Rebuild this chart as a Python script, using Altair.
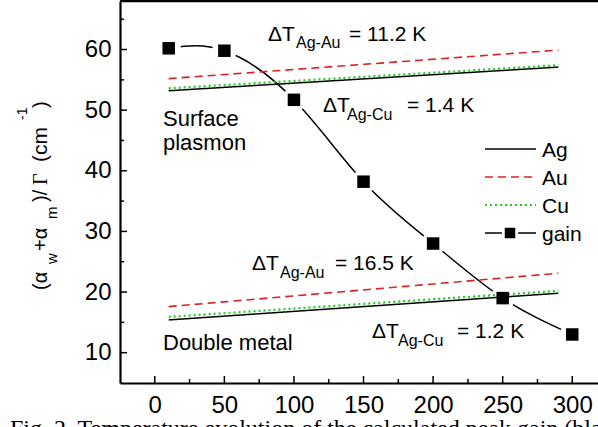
import altair as alt
import pandas as pd

# Peak gain (black squares) versus temperature
T_gain = [10, 50, 100, 150, 200, 250, 300]
gain = [60.2, 59.8, 51.7, 38.2, 28.0, 19.0, 13.0]

# Total losses (alpha_w + alpha_m)/Gamma for each metal, at 10 K and 290 K
T_metal = [10, 290]
sp_ag = [53.2, 57.1]
sp_au = [55.2, 59.9]
sp_cu = [53.6, 57.4]
dm_ag = [15.4, 19.8]
dm_au = [17.6, 23.1]
dm_cu = [15.9, 20.2]

x_major = [0, 50, 100, 150, 200, 250, 300]
x_minor = [25, 75, 125, 175, 225, 275]
y_major = [10, 20, 30, 40, 50, 60]
y_minor = [15, 25, 35, 45, 55, 65]

W, H = 478, 382
SANS = "Liberation Sans"
SERIF = "Liberation Serif"

gain_df = pd.DataFrame({"T": T_gain, "gain": gain})

rows = []
for struct, series in [
    ("Surface plasmon", {"Ag": sp_ag, "Au": sp_au, "Cu": sp_cu}),
    ("Double metal", {"Ag": dm_ag, "Au": dm_au, "Cu": dm_cu}),
]:
    for metal, vals in series.items():
        for t, v in zip(T_metal, vals):
            rows.append({"structure": struct, "metal": metal, "T": t, "value": v})
metals = pd.DataFrame(rows)

xs = alt.Scale(domain=[-25, 318.5], nice=False, zero=False)
ys = alt.Scale(domain=[5, 68], nice=False, zero=False)
x_axis = alt.Axis(values=x_major, title=None, grid=False, ticks=False, tickSize=0,
                  labelFont=SANS, labelFontSize=24, labelColor="black", labelPadding=10,
                  domainColor="black", domainWidth=2.2, labelFlush=False)
y_axis = alt.Axis(values=y_major, title=None, grid=False, ticks=False, tickSize=0,
                  labelFont=SANS, labelFontSize=24, labelColor="black", labelPadding=9,
                  domainColor="black", domainWidth=2.2)


def X(field):
    return alt.X(field, type="quantitative", scale=xs, axis=x_axis)


def Y(field):
    return alt.Y(field, type="quantitative", scale=ys, axis=y_axis)


one = pd.DataFrame({"k": [0]})


def txt(text, x, y, size=21, angle=0, font=SANS):
    return alt.Chart(one).mark_text(
        text=text, font=font, fontSize=size, angle=angle, align="left",
        baseline="alphabetic", color="black"
    ).encode(x=alt.value(x), y=alt.value(y))


def metal_line(metal, color, dash, width):
    return alt.Chart(metals).transform_filter(alt.datum.metal == metal).mark_line(
        color=color, strokeDash=dash, strokeWidth=width
    ).encode(x=X("T"), y=Y("value"), detail="structure:N")


def hrule(x1, x2, y, color="black", dash=None, width=1.5):
    kw = dict(color=color, strokeWidth=width)
    if dash:
        kw["strokeDash"] = dash
    return alt.Chart(one).mark_rule(**kw).encode(
        x=alt.value(x1), x2=alt.value(x2), y=alt.value(y))


RED = "#dd2222"
GREEN = "#22cc22"

gain_line = alt.Chart(gain_df).mark_line(
    color="black", strokeWidth=1.5, interpolate="natural"
).encode(x=X("T"), y=Y("gain"))
gain_gap = alt.Chart(gain_df).mark_point(
    shape="circle", filled=True, color="white", size=600, opacity=1
).encode(x=X("T"), y=Y("gain"))
gain_sq = alt.Chart(gain_df).mark_square(
    color="black", size=156, opacity=1
).encode(x=X("T"), y=Y("gain"))

ag = metal_line("Ag", "black", [1, 0], 1.5)
au = metal_line("Au", RED, [8, 5], 1.6)
cu = metal_line("Cu", GREEN, [2, 3], 2.2)

# inward tick marks
xt_major = alt.Chart(pd.DataFrame({"T": x_major})).mark_rule(color="black", strokeWidth=1.5).encode(
    x=X("T"), y=alt.value(H), y2=alt.value(H - 7))
xt_minor = alt.Chart(pd.DataFrame({"T": x_minor})).mark_rule(color="black", strokeWidth=1.5).encode(
    x=X("T"), y=alt.value(H), y2=alt.value(H - 4))
yt_major = alt.Chart(pd.DataFrame({"v": y_major})).mark_rule(color="black", strokeWidth=1.5).encode(
    y=Y("v"), x=alt.value(0), x2=alt.value(7))
yt_minor = alt.Chart(pd.DataFrame({"v": y_minor})).mark_rule(color="black", strokeWidth=1.5).encode(
    y=Y("v"), x=alt.value(0), x2=alt.value(4))
top_border = hrule(0, W, 0, width=2.5)

annotations = [
    txt("ΔT", 148, 40), txt("Ag-Au", 176, 47, 16), txt("= 11.2 K", 229, 39.5),
    txt("ΔT", 203, 111), txt("Ag-Cu", 227, 119, 16), txt("= 1.4 K", 287, 111),
    txt("ΔT", 132, 269), txt("Ag-Au", 160, 277, 16), txt("= 16.5 K", 215, 269),
    txt("ΔT", 252, 337), txt("Ag-Cu", 278, 345, 16), txt("= 1.2 K", 337, 337),
    txt("Surface", 43, 125, 22), txt("plasmon", 43, 149, 22),
    txt("Double metal", 43, 349, 22),
]

# rotated y-axis title: (α_w+α_m)/Γ (cm^-1)
ytitle = [
    txt("(α", -73, 289, 20, 270), txt("w", -63, 263, 15, 270),
    txt("+α", -73, 250, 20, 270), txt("m", -63, 218, 15, 270),
    txt(")/", -73, 201, 20, 270), txt("Γ", -73, 184, 20, 270, SERIF),
    txt("(cm", -73, 161, 21, 270),
    txt("-1", -93, 119, 14, 270), txt(")", -73, 107, 20, 270),
]

legend = [
    hrule(365, 416, 148), txt("Ag", 422, 156),
    hrule(365, 416, 176, RED, [8, 5], 1.6), txt("Au", 422, 184),
    hrule(365, 416, 204, GREEN, [2, 3], 2.2), txt("Cu", 422, 212),
    hrule(365, 416, 232), txt("gain", 422, 240),
    alt.Chart(one).mark_square(color="white", size=260, opacity=1).encode(
        x=alt.value(390), y=alt.value(232)),
    alt.Chart(one).mark_square(color="black", size=110, opacity=1).encode(
        x=alt.value(390), y=alt.value(232)),
]

caption = txt("Fig. 2. Temperature evolution of the calculated peak gain (black",
              -110, 435, 24, 0, SERIF)

chart = alt.layer(
    gain_line, gain_gap, ag, au, cu, gain_sq,
    xt_major, xt_minor, yt_major, yt_minor, top_border,
    *annotations, *ytitle, *legend, caption,
).properties(
    width=W, height=H,
    autosize=alt.AutoSizeParams(type="none"),
    padding={"left": 120, "top": 1, "right": 0, "bottom": 44},
    background="white",
).configure_view(stroke=None)

chart.save("out.html", embed_options={"renderer": "svg", "actions": False})
